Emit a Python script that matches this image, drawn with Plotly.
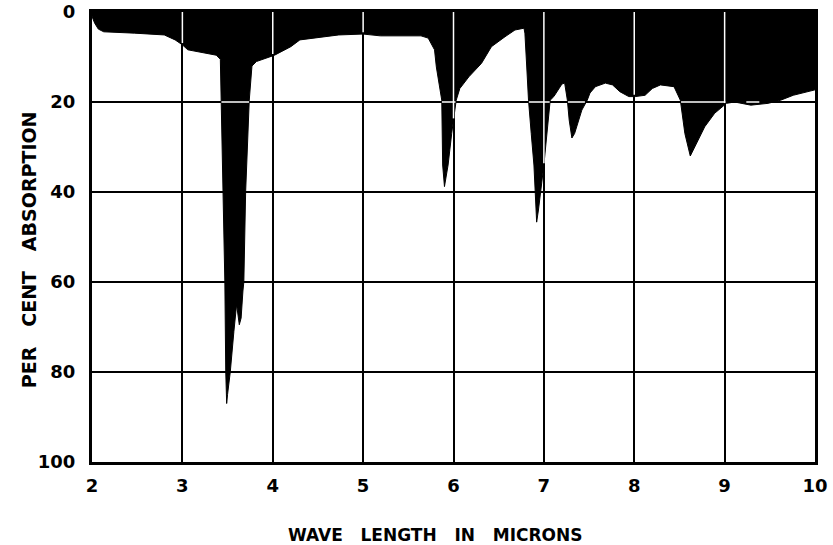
import numpy as np
import plotly.graph_objects as go

# Wave length (microns) and per cent absorption
wavelength = [2.00, 2.03, 2.07, 2.13, 2.47, 2.80, 2.92, 3.00, 3.06, 3.375, 3.42, 3.43,
              3.45, 3.47, 3.48, 3.49, 3.50, 3.53, 3.57, 3.60, 3.63, 3.65, 3.67, 3.68,
              3.70, 3.74, 3.77, 3.82, 4.02, 4.20, 4.30, 4.55, 4.73, 5.00, 5.19, 5.64,
              5.72, 5.79, 5.81, 5.87, 5.875, 5.88, 5.90, 5.94, 5.98, 6.03, 6.07, 6.17,
              6.31, 6.42, 6.57, 6.68, 6.78, 6.79, 6.81, 6.83, 6.86, 6.89, 6.92, 6.94,
              7.00, 7.03, 7.07, 7.11, 7.20, 7.23, 7.26, 7.28, 7.31, 7.34, 7.42, 7.48,
              7.51, 7.57, 7.68, 7.76, 7.84, 7.94, 8.01, 8.12, 8.20, 8.29, 8.44, 8.51,
              8.56, 8.62, 8.69, 8.78, 8.89, 9.02, 9.11, 9.29, 9.48, 9.62, 9.76, 9.91, 10.0]
absorption = [1.0, 2.5, 3.8, 4.4, 4.7, 5.1, 6.2, 7.3, 8.4, 9.6, 10.5, 19.6,
              40, 60, 80, 87, 85, 80, 71, 65, 69.5, 68, 62, 60,
              40, 19.6, 12, 11, 9.6, 7.7, 6.2, 5.5, 5.1, 4.9, 5.3, 5.3,
              5.8, 8.4, 12.2, 19.6, 27, 34, 38.8, 34, 27, 19.6, 17, 14.4,
              11.4, 7.7, 5.5, 4.0, 3.6, 4.7, 12, 19.6, 27, 34, 46.7, 44,
              34, 27, 19.6, 18.8, 16, 15.8, 19.6, 24, 28, 27, 21.8, 19.6,
              18, 16.6, 15.8, 16.2, 17.7, 18.8, 18.8, 18.5, 17, 16.2, 16.6, 19.6,
              27, 32, 29, 25.5, 22.5, 20.3, 20, 20.7, 20.3, 19.6, 18.5, 17.7, 17.3]

x_ticks = [2, 3, 4, 5, 6, 7, 8, 9, 10]
y_ticks = [0, 20, 40, 60, 80, 100]

x_title = " \u00a0\u00a0".join(["WAVE", "LENGTH", "IN", "MICRONS"])
y_title = " \u00a0\u00a0".join(["PER", "CENT", "ABSORPTION"])

FONT = "DejaVu Sans"

fig = go.Figure()
fig.add_trace(go.Scatter(x=wavelength, y=absorption, mode="lines",
                         line=dict(color="black", width=1), fill="tozeroy",
                         fillcolor="black", hoverinfo="skip", showlegend=False))

# white grid lines where they cross the black absorption area
white = dict(color="white", width=1.5)
for k in x_ticks[1:-1]:
    top = float(np.interp(k, wavelength, absorption))
    fig.add_trace(go.Scatter(x=[float(k), float(k)], y=[0.0, top - 0.4], mode="lines",
                             line=white, hoverinfo="skip", showlegend=False))
xs = np.linspace(2, 10, 4001)
cs = np.interp(xs, wavelength, absorption)
inside = cs > 20.5
start = None
for i, flag in enumerate(list(inside) + [False]):
    if flag and start is None:
        start = i
    elif not flag and start is not None:
        fig.add_trace(go.Scatter(x=[float(xs[start]), float(xs[i - 1])], y=[20.0, 20.0],
                                 mode="lines", line=white, hoverinfo="skip",
                                 showlegend=False))
        start = None

fig.update_layout(
    width=833, height=545,
    margin=dict(l=92, r=18, t=12, b=83),
    plot_bgcolor="white", paper_bgcolor="white",
    font=dict(family=FONT, color="black"),
    xaxis=dict(range=[2, 10], tickvals=x_ticks, automargin=False,
               showgrid=True, gridcolor="black", gridwidth=2,
               showline=True, linecolor="black", linewidth=3, mirror=True,
               zeroline=False, ticks="", ticklabelstandoff=5,
               tickfont=dict(family=FONT, size=18, weight="bold")),
    yaxis=dict(range=[100, 0], tickvals=y_ticks, automargin=False,
               showgrid=True, gridcolor="black", gridwidth=2,
               showline=True, linecolor="black", linewidth=3, mirror=True,
               zeroline=False, ticks="", ticklabelstandoff=10,
               tickfont=dict(family=FONT, size=18, weight="bold")),
    annotations=[
        dict(text=x_title, xref="paper", yref="paper", x=0.4744, y=-0.162,
             xanchor="center", yanchor="middle", showarrow=False,
             font=dict(family=FONT, size=17, weight="bold", color="black")),
        dict(text=y_title, xref="paper", yref="paper", x=-0.087, y=0.471,
             xanchor="center", yanchor="middle", showarrow=False, textangle=-90,
             font=dict(family=FONT, size=19, weight="bold", color="black")),
    ],
)

fig.write_html("out.html")
